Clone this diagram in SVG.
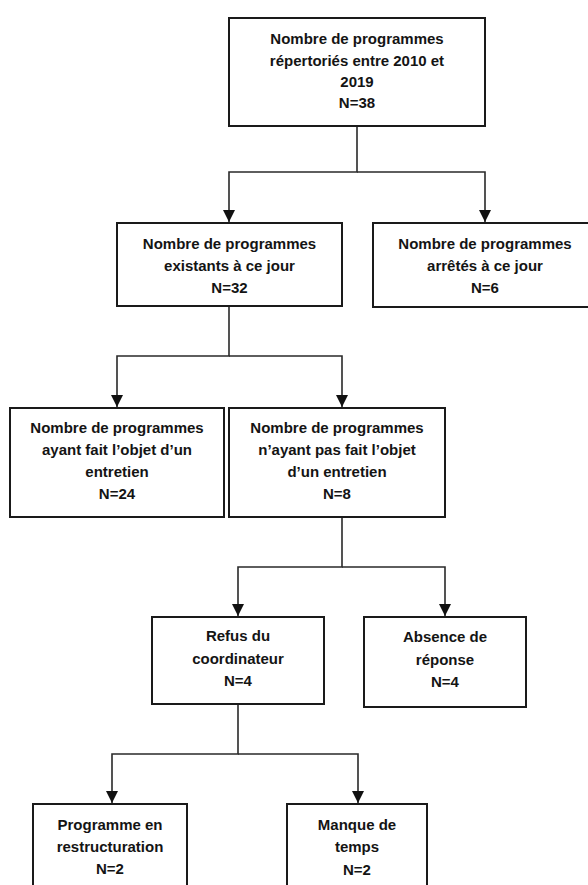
<svg xmlns="http://www.w3.org/2000/svg" width="588" height="885" viewBox="0 0 588 885">
  <style>
    .box { fill: #ffffff; stroke: #1a1a1a; stroke-width: 2; }
    .conn { fill: none; stroke: #2a2a2a; stroke-width: 1.6; }
    text { font-family: "Liberation Sans", Arial, sans-serif; font-weight: bold; font-size: 15px; fill: #141414; text-anchor: middle; }
  </style>
  <defs>
    <marker id="arrow" markerUnits="userSpaceOnUse" markerWidth="14" markerHeight="12" refX="12" refY="6" orient="auto">
      <path d="M0,0 L12,6 L0,12 Z" fill="#111"/>
    </marker>
  </defs>
  <rect width="588" height="885" fill="#ffffff"/>

  <g id="connectors">
    <path class="conn" d="M357,126 V172 H229 V222" marker-end="url(#arrow)"/>
    <path class="conn" d="M357,172 H485 V222" marker-end="url(#arrow)"/>
    <path class="conn" d="M229,306 V356 H117 V407" marker-end="url(#arrow)"/>
    <path class="conn" d="M229,356 H342 V407" marker-end="url(#arrow)"/>
    <path class="conn" d="M342,517 V567 H238 V616" marker-end="url(#arrow)"/>
    <path class="conn" d="M342,567 H445 V616" marker-end="url(#arrow)"/>
    <path class="conn" d="M238,704 V754 H112 V803" marker-end="url(#arrow)"/>
    <path class="conn" d="M238,754 H358 V803" marker-end="url(#arrow)"/>
  </g>

  <g id="n-total">
    <rect class="box" x="229" y="18" width="256" height="108"/>
    <text x="357" y="44">Nombre de programmes</text>
    <text x="357" y="65.5">répertoriés entre 2010 et</text>
    <text x="357" y="87">2019</text>
    <text x="357" y="108">N=38</text>
  </g>

  <g id="n-existants">
    <rect class="box" x="117" y="223" width="225" height="83"/>
    <text x="229.5" y="249">Nombre de programmes</text>
    <text x="229.5" y="271">existants à ce jour</text>
    <text x="229.5" y="293">N=32</text>
  </g>

  <g id="n-arretes">
    <rect class="box" x="373" y="223" width="230" height="84"/>
    <text x="485" y="249">Nombre de programmes</text>
    <text x="485" y="271">arrêtés à ce jour</text>
    <text x="485" y="293">N=6</text>
  </g>

  <g id="n-entretien">
    <rect class="box" x="10" y="408" width="214" height="109"/>
    <text x="117" y="433">Nombre de programmes</text>
    <text x="117" y="455">ayant fait l’objet d’un</text>
    <text x="117" y="477">entretien</text>
    <text x="117" y="499">N=24</text>
  </g>

  <g id="n-sans-entretien">
    <rect class="box" x="229" y="408" width="216" height="109"/>
    <text x="337" y="433">Nombre de programmes</text>
    <text x="337" y="455">n’ayant pas fait l’objet</text>
    <text x="337" y="477">d’un entretien</text>
    <text x="337" y="499">N=8</text>
  </g>

  <g id="n-refus">
    <rect class="box" x="152" y="617" width="172" height="87"/>
    <text x="238" y="641">Refus du</text>
    <text x="238" y="663.5">coordinateur</text>
    <text x="238" y="686">N=4</text>
  </g>

  <g id="n-absence">
    <rect class="box" x="364" y="617" width="162" height="90"/>
    <text x="445" y="642">Absence de</text>
    <text x="445" y="665">réponse</text>
    <text x="445" y="687">N=4</text>
  </g>

  <g id="n-restructuration">
    <rect class="box" x="33" y="804" width="154" height="100"/>
    <text x="110" y="830">Programme en</text>
    <text x="110" y="852">restructuration</text>
    <text x="110" y="874">N=2</text>
  </g>

  <g id="n-temps">
    <rect class="box" x="287" y="804" width="140" height="100"/>
    <text x="357" y="830">Manque de</text>
    <text x="357" y="852">temps</text>
    <text x="357" y="875">N=2</text>
  </g>
</svg>
